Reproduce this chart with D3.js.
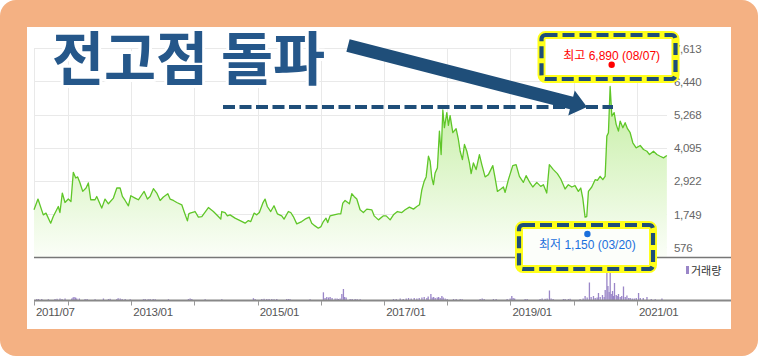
<!DOCTYPE html>
<html><head><meta charset="utf-8">
<script src="https://cdn.jsdelivr.net/npm/d3@7"></script>
<style>html,body{margin:0;padding:0;background:#fff;}svg{display:block}</style>
</head><body><svg id="c" width="758" height="356"></svg>
<script>
// ---- data (dates as decimal years) ----
const priceDates = [
2011.462,2011.525,2011.609,2011.652,2011.726,2011.767,2011.847,2011.873,2011.910,2011.953,
2012.005,2012.047,2012.084,2012.122,2012.153,2012.190,2012.233,2012.285,2012.321,2012.359,
2012.427,2012.454,2012.533,2012.585,2012.638,2012.717,2012.771,2012.823,2012.859,2012.902,
2012.954,2012.992,2013.060,2013.112,2013.166,2013.203,2013.255,2013.297,2013.350,2013.403,
2013.456,2013.508,2013.578,2013.614,2013.666,2013.720,2013.799,2013.835,2013.888,2013.910,
2013.930,2014.009,2014.062,2014.116,2014.220,2014.299,2014.378,2014.416,2014.432,2014.484,
2014.521,2014.563,2014.642,2014.722,2014.801,2014.853,2014.891,2014.943,2014.986,2015.027,
2015.081,2015.117,2015.153,2015.207,2015.259,2015.312,2015.381,2015.418,2015.486,2015.524,
2015.565,2015.619,2015.698,2015.750,2015.818,2015.856,2015.908,2015.960,2016.003,2016.040,
2016.082,2016.109,2016.146,2016.209,2016.277,2016.315,2016.347,2016.383,2016.451,
2016.489,2016.525,2016.568,2016.620,2016.672,2016.726,2016.805,2016.842,2016.910,2016.989,
2017.032,2017.095,2017.147,2017.210,2017.280,2017.332,2017.400,2017.464,2017.517,2017.559,
2017.597,2017.633,2017.665,2017.701,2017.728,2017.755,2017.780,2017.807,2017.843,2017.875,
2017.902,2017.929,2017.954,2017.992,2018.017,2018.044,2018.087,2018.139,2018.175,2018.203,
2018.239,2018.271,2018.309,2018.350,2018.377,2018.413,2018.456,2018.508,2018.546,2018.598,
2018.650,2018.720,2018.756,2018.793,2018.847,2018.888,2018.915,2018.967,
2019.036,2019.089,2019.141,2019.204,2019.247,2019.310,2019.353,2019.416,2019.479,2019.521,
2019.574,2019.615,2019.679,2019.742,2019.796,2019.864,2019.916,2019.970,2020.022,2020.074,
2020.112,2020.144,2020.180,2020.207,2020.233,2020.286,2020.339,2020.375,2020.418,2020.460,
2020.497,2020.524,2020.549,2020.576,2020.603,2020.639,2020.671,2020.707,2020.734,2020.777,
2020.813,2020.850,2020.892,2020.934,2020.987,2021.051,2021.103,2021.157,2021.198,2021.261,
2021.315,2021.367,2021.420,2021.473];
const priceValues = [
1902,2282,1724,1784,1429,1664,2019,1806,2495,2161,
2282,2197,3227,3028,3064,2851,2552,2673,2851,2257,
2257,2374,1962,2282,2115,2317,2673,2673,2374,2232,
2044,2399,2317,2257,2434,2552,2282,2374,2648,2495,
2232,2353,2470,2282,2232,2161,2079,1841,1511,1759,
1784,1841,1642,1664,1983,1841,1664,1571,1841,1806,
1688,1724,1607,1521,1429,1521,1486,1784,1724,1806,
2137,2282,2019,1841,2044,1759,1688,1571,1841,1806,
1664,1404,1486,1571,1642,1429,1333,1251,1308,1486,
1607,1450,1688,1724,1759,1759,2137,2232,2115,
2470,2374,2282,1902,1806,1926,1902,1688,1546,1688,
1688,1546,1724,1841,1806,1902,1997,1926,2019,2079,
2612,2907,3064,3796,3618,3028,2790,3206,3384,4684,
3856,5431,4805,5338,4887,5232,4628,4770,4389,3973,
3679,4212,3973,3561,3181,3561,3323,3856,3501,3064,
3145,3465,3028,2552,2637,2708,2516,2968,
3465,3501,3085,2872,3110,2851,2708,2872,2730,2790,
2495,3501,3323,3181,2992,2637,2790,2708,2755,2552,
2673,2317,1642,1664,2552,2708,2968,2944,3085,2968,
3085,4507,4628,6262,5217,5338,4923,4684,5039,4805,
4983,4770,4628,4272,4094,4176,4034,3973,3856,3973,
3856,3796,3739,3820];

const volDates = [
2011.505,2011.533,2011.584,2011.688,2011.794,2011.826,2011.873,2011.905,2011.953,2012.059,
2012.079,2012.095,2012.119,2012.138,2012.179,2012.269,2012.301,2012.427,2012.559,2012.638,
2012.665,2012.771,2012.791,2012.823,2012.854,2012.902,2012.981,2013.191,2013.218,2013.266,
2013.297,2013.345,2013.377,2013.587,2013.903,2013.930,2013.957,2014.168,2014.432,2014.932,
2014.959,2015.065,2015.101,2015.144,2015.180,2015.223,2015.259,2015.302,2015.460,2015.489,
2015.513,2015.829,2016.040,2016.066,2016.093,2016.122,2016.146,2016.177,2016.225,2016.256,
2016.277,2016.304,2016.331,2016.356,2016.375,2016.399,2016.462,2016.494,2016.541,2016.573,
2016.620,2017.147,2017.190,2017.253,2017.301,2017.348,2017.385,2017.427,2017.475,2017.517,
2017.554,2017.597,2017.633,2017.676,2017.696,2017.739,2017.759,2017.783,2017.807,2017.839,
2017.862,2017.886,2017.913,2017.934,2017.965,2017.997,2018.097,2018.139,2018.203,2018.234,
2018.519,2018.551,2018.582,2018.729,2018.772,2018.946,2018.994,2019.020,2019.041,2019.065,
2019.231,2019.263,2019.468,2019.500,2019.547,2019.579,2019.616,2019.642,2019.674,2019.837,
2019.864,2019.916,2019.943,2020.101,2020.149,2020.180,2020.212,2020.248,2020.275,2020.312,
2020.339,2020.370,2020.391,2020.418,2020.454,2020.481,2020.497,2020.524,2020.540,2020.560,
2020.576,2020.592,2020.613,2020.628,2020.644,2020.671,2020.687,2020.707,2020.734,2020.758,
2020.786,2020.813,2020.840,2020.869,2020.892,2020.924,2020.956,2020.987,2021.024,2021.051,
2021.098,2021.157,2021.225,2021.288,2021.394];
const volValues = [
1,1,1,0.8,1,1.2,1.5,1,1.5,1.5,
2.5,3,2.5,1.5,1.5,1,1,0.8,1.5,1,
1.2,1,1.8,1.5,1,1,0.8,0.8,1,0.8,
1,1,0.8,0.8,1,1.5,1,0.8,0.8,1.8,
1,1,1.2,1,1,1,0.8,1,1,1,
0.8,0.8,7.7,2,3,2.5,3,2,1.5,1.5,
1,1.5,6,11,3,2.5,1,1,1,0.8,
0.8,1,1,1.5,1,1.5,2,1.5,2,1.5,
2,2.5,3,2,3.5,6,2.5,3,2,2.5,
3,2,4,2.5,1.5,1,1,1,1,0.8,
1,1.5,1,1,1,1,1.5,4,2,1.5,
1,1,1,1.5,1.2,1.5,9.5,1.5,1,1,
1,1,1.2,1,1.5,4,2.5,17.5,3,4,
2,2.5,7,3,5,3,10,36.3,14,8,
28,6,9,4,17,5,4,6,3,4,
13.5,3,4.5,2,2,1.5,1.5,2,7,2,
2,3,1,0.8,1.5];

const yTickValues = [576,1749,2922,4095,5268,6440,7613];
const tickYears = [2011.462,2012,2013,2014,2015,2016,2017,2018,2019,2020,2021];
const labelYears = [2011.462,2013,2015,2017,2019,2021];
const labelTexts = ["2011/07","2013/01","2015/01","2017/01","2019/01","2021/01"];
const domainYears = [2011.462,2021.475];
const maxPoint = {date:2020.6, value:6890, text:"최고 6,890 (08/07)"};
const minPoint = {date:2020.217, value:1150, text:"최저 1,150 (03/20)"};
const titleText = "전고점 돌파";
const legendText = "거래량";

function dec(d){const y=Math.floor(d);const s=Date.UTC(y,0,1),e=Date.UTC(y+1,0,1);return new Date(s+(d-y)*(e-s));}

const svg = d3.select("#c");
const NAVY="#1f4e79";
// frame
svg.append("rect").attr("x",0).attr("y",0).attr("width",758).attr("height",356).attr("rx",16).attr("fill","#f4b183");
svg.append("rect").attr("x",27).attr("y",27).attr("width",704).attr("height",302).attr("fill","#ffffff");

const L=34,R=667,T=48.3,B=257,VB=300;
const x = d3.scaleUtc().domain(domainYears.map(dec)).range([L,R]);
const y = d3.scaleLinear().domain([576,7613]).range([247.3,T]);
const vy = d3.scaleLinear().domain([0,43]).range([VB,B]);

// gradient
const defs=svg.append("defs");
const g=defs.append("linearGradient").attr("id","gf").attr("gradientUnits","userSpaceOnUse")
 .attr("x1",0).attr("x2",0).attr("y1",90).attr("y2",B);
g.append("stop").attr("offset",0).attr("stop-color","#c4eea2");
g.append("stop").attr("offset",1).attr("stop-color","#fbfef8");

// grid
const grid=svg.append("g").attr("stroke","#e9e9e9").attr("stroke-width",1);
grid.selectAll("line.h").data(yTickValues).join("line")
  .attr("x1",L).attr("x2",R).attr("y1",d=>Math.round(y(d))+0.5).attr("y2",d=>Math.round(y(d))+0.5);
grid.selectAll("line.v").data(tickYears).join("line")
  .attr("x1",d=>Math.round(x(dec(d)))+0.5).attr("x2",d=>Math.round(x(dec(d)))+0.5).attr("y1",T).attr("y2",B);

const pdata = priceDates.map((d,i)=>({date:dec(d),v:priceValues[i]}));
svg.append("path").datum(pdata).attr("fill","url(#gf)")
  .attr("d",d3.area().x(d=>x(d.date)).y0(B).y1(d=>y(d.v)));
svg.append("path").datum(pdata).attr("fill","none").attr("stroke","#5fc628").attr("stroke-width",1.3)
  .attr("stroke-linejoin","round").attr("d",d3.line().x(d=>x(d.date)).y(d=>y(d.v)));

// volume
svg.append("g").attr("fill","#9a86c8").selectAll("rect").data(volDates).join("rect")
  .attr("x",(d)=>x(dec(d))-0.6).attr("width",1.3)
  .attr("y",(d,i)=>vy(volValues[i])).attr("height",(d,i)=>VB-vy(volValues[i]));

// axes lines
svg.append("line").attr("x1",L).attr("x2",731).attr("y1",B+0.5).attr("y2",B+0.5).attr("stroke","#777").attr("stroke-width",1.5);
svg.append("line").attr("x1",L).attr("x2",731).attr("y1",VB+0.5).attr("y2",VB+0.5).attr("stroke","#888").attr("stroke-width",2);
svg.append("g").attr("stroke","#999").selectAll("line").data(tickYears).join("line")
  .attr("x1",d=>Math.round(x(dec(d)))+0.5).attr("x2",d=>Math.round(x(dec(d)))+0.5).attr("y1",VB+1).attr("y2",VB+5.5);

const FONT="'Liberation Sans', Arial, sans-serif";
svg.append("g").selectAll("text").data(labelYears).join("text")
  .attr("x",d=>x(dec(d))+2).attr("y",316).text((d,i)=>labelTexts[i])
  .attr("font-family",FONT).attr("font-size",11.5).attr("letter-spacing",-0.3).attr("fill","#555");
svg.append("g").selectAll("text").data(yTickValues).join("text")
  .attr("x",674).attr("y",d=>y(d)+4.5).text(d3.format(","))
  .attr("font-family",FONT).attr("font-size",11.5).attr("letter-spacing",-0.3).attr("fill","#666");

// legend
svg.append("rect").attr("x",686).attr("y",266).attr("width",3).attr("height",8).attr("fill","#9a86c8");
svg.append("text").attr("x",691).attr("y",274.5).text(legendText)
  .attr("font-family","'Noto Sans CJK KR',sans-serif").attr("font-size",11).attr("fill","#333");

// title
svg.append("text").attr("x",52).attr("y",80).text(titleText)
  .attr("font-family","'Noto Sans CJK KR',sans-serif").attr("font-weight",700).attr("font-size",58)
  .attr("textLength",273).attr("lengthAdjust","spacingAndGlyphs")
  .attr("fill","#25578a").attr("stroke","#fff").attr("stroke-width",6).attr("stroke-linejoin","round")
  .attr("paint-order","stroke");

// dashed level line
svg.append("line").attr("x1",223).attr("x2",613).attr("y1",107).attr("y2",107)
  .attr("stroke",NAVY).attr("stroke-width",4).attr("stroke-dasharray","12,4.5");

// arrow
const ax0=348, ay0=45.5, ax1=587, ay1=107;
const AL=Math.hypot(ax1-ax0,ay1-ay0), ang=Math.atan2(ay1-ay0,ax1-ax0)*180/Math.PI;
const hl=16, hw=13, sw=6.5;
svg.append("polygon").attr("transform",`translate(${ax0},${ay0}) rotate(${ang})`)
  .attr("points",[[0,-sw],[AL-hl,-sw],[AL-hl,-hw],[AL,0],[AL-hl,hw],[AL-hl,sw],[0,sw]].map(p=>p.join(",")).join(" "))
  .attr("fill",NAVY);

// annotation boxes
function box(bx,by,bw,bh,fill){
  svg.append("rect").attr("x",bx).attr("y",by).attr("width",bw).attr("height",bh).attr("rx",4)
    .attr("fill",fill).attr("stroke","#ffff1a").attr("stroke-width",8);
  svg.append("rect").attr("x",bx).attr("y",by).attr("width",bw).attr("height",bh).attr("rx",4)
    .attr("fill","none").attr("stroke",NAVY).attr("stroke-width",4.2).attr("stroke-dasharray","12,5");
}
box(541.5,35,134,44,"#ffffff");
box(519,225,134,44,"#fcfefa");

const mx=x(dec(maxPoint.date)), nx=x(dec(minPoint.date));
svg.append("text").attr("x",mx).attr("y",59.5).attr("text-anchor","middle").text(maxPoint.text)
  .attr("font-family","'Liberation Sans','Noto Sans CJK KR',sans-serif").attr("font-size",12).attr("fill","#ff0000");
svg.append("circle").attr("cx",mx).attr("cy",y(maxPoint.value)-4).attr("r",3.2).attr("fill","#ff0000");
svg.append("circle").attr("cx",nx).attr("cy",y(minPoint.value)+3).attr("r",3.2).attr("fill","#1a6fdc");
svg.append("text").attr("x",nx).attr("y",249).attr("text-anchor","middle").text(minPoint.text)
  .attr("font-family","'Liberation Sans','Noto Sans CJK KR',sans-serif").attr("font-size",12).attr("fill","#1a6fdc");
</script></body></html>
